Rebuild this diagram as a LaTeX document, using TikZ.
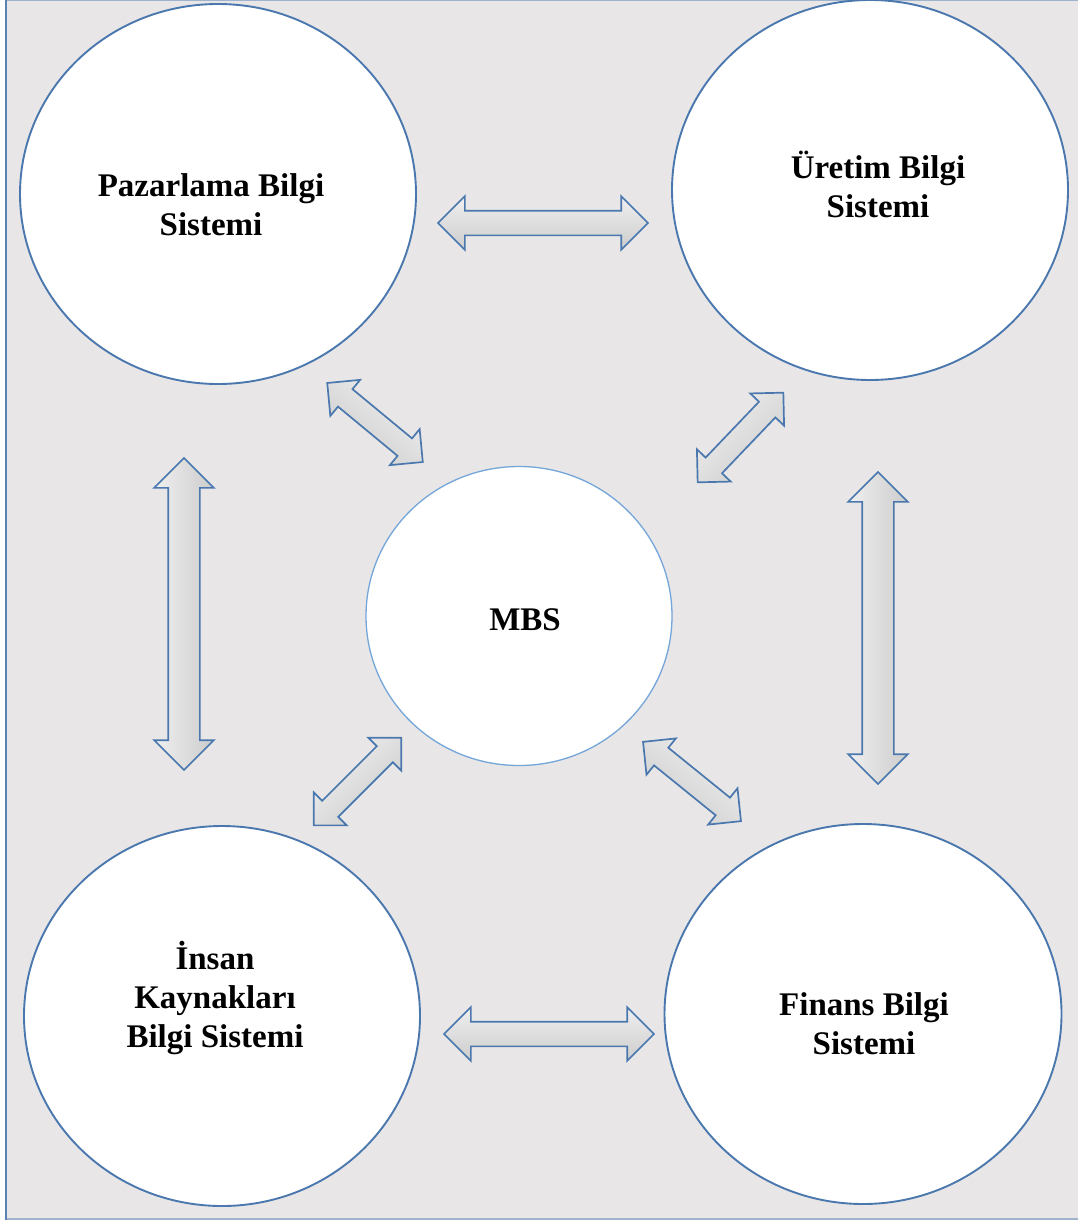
\documentclass[tikz,border=0pt]{standalone}
\usepackage{fontspec}
\setmainfont{Liberation Serif}
\usetikzlibrary{shapes.arrows,shapes.geometric}
\definecolor{bg}{HTML}{E8E6E7}
\definecolor{edge}{HTML}{4A78AE}
\definecolor{frame}{HTML}{5A82B2}
\definecolor{framelight}{HTML}{9FB3CC}
\definecolor{mbsedge}{HTML}{74A6D9}
\begin{document}
\begin{tikzpicture}[x=1pt,y=-1pt,
  sysbox/.style={ellipse, draw=edge, line width=1.9pt, fill=white, inner sep=0pt},
  systext/.style={align=center, font=\fontsize{33}{39}\selectfont\bfseries, inner sep=0pt},
  arr/.style={double arrow, draw=edge, line width=1.7pt, top color=white!94!black, bottom color=white!80!black, shading angle=#1, rotate=#1, inner xsep=0pt, double arrow head indent=0pt},
  bigh/.style={arr=#1, inner ysep=11.5pt, double arrow head extend=14.5pt},
  bigv/.style={arr=#1, inner ysep=15pt, double arrow head extend=14pt},
  diag/.style={arr=#1, inner ysep=10.5pt, double arrow head extend=12pt}
]
\useasboundingbox (0,0) rectangle (1078,1220);
\fill[bg] (6,0) rectangle (1078,1220);
\draw[framelight, line width=1.5pt] (6,0.75) -- (1078,0.75);
\draw[framelight, line width=1.5pt] (6,1219) -- (1078,1219);
\draw[frame, line width=1.6pt] (6,0) -- (6,1220);

% systems
\node[sysbox, minimum width=396pt, minimum height=380pt] (paz) at (218,194) {};
\node[sysbox, minimum width=396pt, minimum height=380pt] (uret) at (870,190) {};
\node[sysbox, minimum width=396pt, minimum height=380pt] (insan) at (222,1016) {};
\node[sysbox, minimum width=397pt, minimum height=380pt] (fin) at (863,1014) {};
\node[ellipse, draw=mbsedge, line width=1.3pt, fill=white, minimum width=306pt, minimum height=299pt] (mbs) at (519,616) {};

\node[systext] (pazt) at (211,205) {Pazarlama Bilgi\\Sistemi};
\node[systext] (urett) at (878,184) {Üretim Bilgi\\Sistemi};
\node[systext] (mbst) at (525,620) {MBS};
\node[systext] (insant) at (215,998) {İnsan\\Kaynakları\\Bilgi Sistemi};
\node[systext] (fint) at (864,1024) {Finans Bilgi\\Sistemi};

% arrows
\node[bigh=0, minimum height=210pt] (a1) at (543,223) {};
\node[bigh=0, minimum height=210pt] (a2) at (549,1034) {};
\node[bigv=90, minimum height=312pt] (a3) at (184,614) {};
\node[bigv=90, minimum height=312pt] (a4) at (878,628) {};
\node[diag=-39.6, minimum height=124pt] (a5) at (375,422.5) {};
\node[diag=46.3, minimum height=124pt] (a6) at (740.5,437.5) {};
\node[diag=45, minimum height=124pt] (a7) at (357.5,781.5) {};
\node[diag=-39, minimum height=126pt] (a8) at (692,781.5) {};
\end{tikzpicture}
\end{document}
